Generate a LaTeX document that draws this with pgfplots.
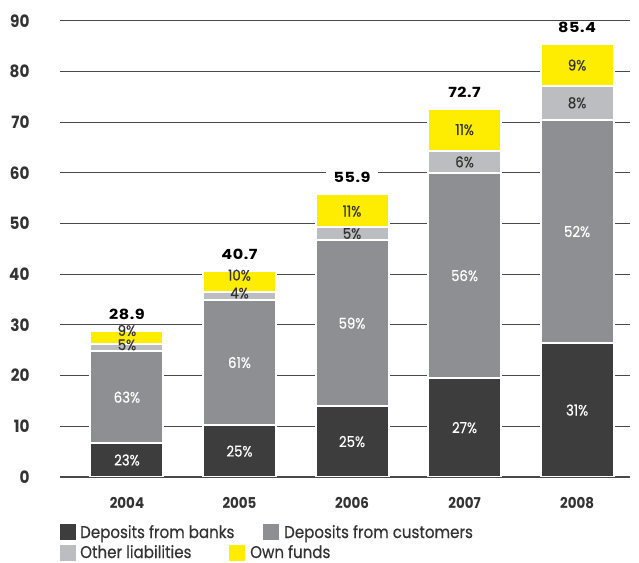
\documentclass[border=0pt]{standalone}
\usepackage{pgfplots}
\pgfplotsset{compat=1.18}
\usepackage{pgfplotstable}
\usepackage{fontspec}
\setmainfont[FakeStretch=0.9]{Poppins}
\newfontfamily\medfont[FakeStretch=0.89, FakeBold=0.5]{Poppins}
\newfontfamily\totfont[FakeStretch=1.15, LetterSpace=4]{Poppins}
\definecolor{banks}{HTML}{3D3D3D}
\definecolor{cust}{HTML}{8E8F92}
\definecolor{other}{HTML}{BCBDC0}
\definecolor{own}{HTML}{FFED00}
\definecolor{gridc}{HTML}{4A4A4A}
\definecolor{txtd}{HTML}{333333}

\pgfplotstableread{
x y p
0 6.7 23
1 10.2 25
2 14.0 25
3 19.5 27
4 26.4 31
}\banks
\pgfplotstableread{
x y p
0 18.1 63
1 24.8 61
2 32.7 59
3 40.5 56
4 44.1 52
}\cust
\pgfplotstableread{
x y p dy
0 1.4 5 3
1 1.6 4 2.5
2 2.7 5 0
3 4.4 6 0
4 6.7 8 0
}\other
\pgfplotstableread{
x y p dy
0 2.7 9 7
1 4.1 10 6
2 6.5 11 -1
3 8.3 11 0
4 8.2 9 0
}\own
\pgfplotstableread{
x y t
0 28.9 28.9
1 40.7 40.7
2 55.9 55.9
3 72.7 72.7
4 85.4 85.4
}\tot

\begin{document}
\begin{tikzpicture}
\path[use as bounding box] (-60bp,-86bp) rectangle (579bp,477bp);
\begin{axis}[
  at={(0,0)}, anchor=south west,
  scale only axis, width=570bp, height=456bp,
  ybar stacked, bar width=73bp,
  xmin=-0.595, xmax=4.47, ymin=0, ymax=90,
  ytick={0,10,...,90},
  xtick={0,...,4}, xticklabels={2004,2005,2006,2007,2008},
  axis line style={draw=none},
  major tick length=0,
  ymajorgrids, grid style={gridc, line width=1bp},
  /pgf/number format/assume math mode=true,
  yticklabel style={font=\bfseries\fontsize{17}{17}\selectfont, text=txtd, xshift=-27bp},
  xticklabel style={font=\bfseries\fontsize{15}{15}\selectfont, text=txtd, yshift=-17bp},
  point meta=explicit symbolic,
  nodes near coords={\pgfplotspointmeta\%},
  every node near coord/.style={anchor=center, inner sep=1bp, font=\medfont\fontsize{15}{15}\selectfont},
]
\addplot[fill=banks, draw=white, line width=2bp, every node near coord/.append style={text=white}] table[x=x,y=y,meta=p]{\banks};
\addplot[fill=cust, draw=white, line width=2bp, every node near coord/.append style={text=white}] table[x=x,y=y,meta=p]{\cust};
\addplot[fill=other, draw=white, line width=2bp, visualization depends on={\thisrow{dy} \as \dy}, every node near coord/.append style={text=txtd, yshift={\dy*1pt}}] table[x=x,y=y,meta=p]{\other};
\addplot[fill=own, draw=white, line width=2bp, visualization depends on={\thisrow{dy} \as \dy}, every node near coord/.append style={text=txtd, yshift={\dy*1pt}}] table[x=x,y=y,meta=p]{\own};
\draw[gridc, line width=1.8bp] (rel axis cs:0,0) -- (rel axis cs:1,0);
\end{axis}
\begin{axis}[
  at={(0,0)}, anchor=south west,
  scale only axis, width=570bp, height=456bp,
  ybar, bar width=73bp, bar shift=0pt,
  xmin=-0.595, xmax=4.47, ymin=0, ymax=90,
  hide axis,
  point meta=explicit symbolic,
  nodes near coords={\pgfplotspointmeta},
  every node near coord/.style={anchor=south, yshift=9bp, fill=white, inner xsep=8bp, inner ysep=2bp, text=black, font=\totfont\bfseries\fontsize{14}{14}\selectfont},
]
\addplot[draw=none, fill=none] table[x=x,y=y,meta=t]{\tot};
\end{axis}
\tikzset{sq/.style={minimum size=16bp, inner sep=0, outer sep=0, anchor=west},
  lt/.style={anchor=base west, inner sep=0, text=txtd, font=\medfont\fontsize{17}{17}\selectfont}}
\node[sq, fill=banks] at (0bp,-55bp) {};
\node[lt] at (20bp,-61bp) {Deposits from banks};
\node[sq, fill=cust] at (203bp,-55bp) {};
\node[lt] at (224bp,-61bp) {Deposits from customers};
\node[sq, fill=other] at (0bp,-76bp) {};
\node[lt] at (20bp,-81bp) {Other liabilities};
\node[sq, fill=own] at (169bp,-76bp) {};
\node[lt] at (190bp,-81bp) {Own funds};
\end{tikzpicture}
\end{document}
